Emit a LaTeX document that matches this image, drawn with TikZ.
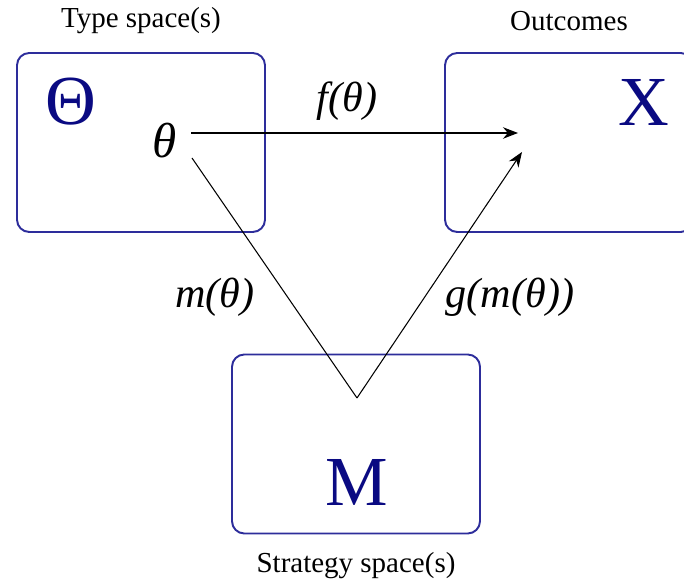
\documentclass[tikz,border=0pt]{standalone}
\usepackage{fontspec}
\setmainfont{Liberation Serif}
\usetikzlibrary{arrows.meta}
\definecolor{boxblue}{RGB}{45,45,155}
\definecolor{symblue}{RGB}{10,10,130}
\tikzset{
    spacebox/.style={draw=boxblue, fill=white, rounded corners=7pt, line width=1.1pt, minimum width=4.96cm, minimum height=3.58cm},
    spacesym/.style={text=symblue, font=\fontsize{40}{40}\selectfont},
    caption/.style={font=\fontsize{16.5}{16.5}\selectfont},
    maplabel/.style={font=\fontsize{24}{24}\selectfont\itshape},
}

\begin{document}
\begin{tikzpicture}[
    >={Stealth[length=3mm, width=2.3mm]},
]
\clip (0,0) rectangle (13.68,11.66);
% the three spaces
\node[spacebox] (types) at (2.82,8.81) {};
\node[spacebox] (outcomes) at (11.38,8.81) {};
\node[spacebox] (strategies) at (7.12,2.78) {};

\node[caption] (typelab) at (2.82,11.24) {Type space(s)};
\node[caption] (outlab) at (11.38,11.24) {Outcomes};
\node[caption] (stratlab) at (7.12,0.34) {Strategy space(s)};

\node[spacesym] (Theta) at (1.42,9.62) {Θ};
\node[spacesym] (X) at (12.88,9.62) {X};
\node[spacesym] (M) at (7.14,2.02) {M};

% maps
\node[maplabel, font=\fontsize{28}{28}\selectfont\itshape] (theta) at (3.30,8.84) {θ};
\coordinate (fstart) at (3.82,9.00);
\coordinate (fend) at (10.36,9.00);
\coordinate (mstart) at (3.84,8.50);
\coordinate (mend) at (7.14,3.70);
\coordinate (gend) at (10.44,8.62);

\draw[->, line width=0.6pt] (fstart) -- (fend);
\draw[line width=0.6pt] (mstart) -- (mend);
\draw[->, line width=0.6pt] (mend) -- (gend);

\node[maplabel] (flab) at (6.94,9.64) {f(θ)};
\node[maplabel] (mlab) at (4.30,5.72) {m(θ)};
\node[maplabel] (glab) at (10.20,5.72) {g(m(θ))};
\end{tikzpicture}
\end{document}
